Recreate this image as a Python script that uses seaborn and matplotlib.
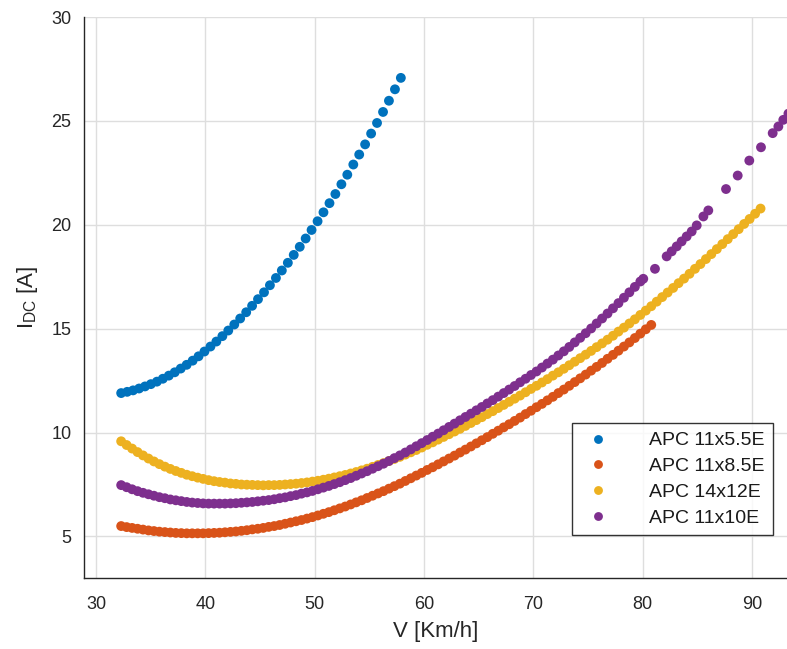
import numpy as np
import pandas as pd
import matplotlib
matplotlib.use('Agg')
import matplotlib.pyplot as plt
import seaborn as sns

sns.set_style('white')
plt.rcParams['font.family'] = ['Liberation Sans', 'DejaVu Sans']
plt.rcParams['mathtext.fontset'] = 'custom'
plt.rcParams['mathtext.rm'] = 'Liberation Sans'
plt.rcParams['mathtext.it'] = 'Liberation Sans:italic'

# propeller names and MATLAB default colours
props = ['APC 11x5.5E', 'APC 11x8.5E', 'APC 14x12E', 'APC 11x10E']
colors = ['#0072BD', '#D95319', '#EDB120', '#7E2F8E']

# APC 11x5.5E
v_55 = [32.30, 32.85, 33.39, 33.94, 34.48, 35.02, 35.57, 36.11, 36.66, 37.20,
        37.75, 38.29, 38.84, 39.38, 39.92, 40.47, 41.01, 41.56, 42.10, 42.65,
        43.19, 43.74, 44.28, 44.82, 45.37, 45.91, 46.46, 47.00, 47.55, 48.09,
        48.64, 49.18, 49.72, 50.27, 50.81, 51.36, 51.90, 52.45, 52.99, 53.54,
        54.08, 54.62, 55.17, 55.71, 56.26, 56.80, 57.35, 57.89]
i_55 = [11.90, 11.96, 12.03, 12.12, 12.22, 12.33, 12.45, 12.59, 12.74, 12.90,
        13.08, 13.26, 13.46, 13.67, 13.90, 14.14, 14.38, 14.64, 14.91, 15.20,
        15.49, 15.79, 16.10, 16.42, 16.75, 17.09, 17.44, 17.80, 18.17, 18.55,
        18.94, 19.34, 19.75, 20.17, 20.60, 21.04, 21.48, 21.95, 22.41, 22.90,
        23.38, 23.87, 24.39, 24.90, 25.43, 25.97, 26.52, 27.07]

# speed grid shared by the three other propellers
v_grid = [32.3, 32.8, 33.3, 33.8, 34.3, 34.8, 35.3, 35.8, 36.3, 36.8,
          37.3, 37.8, 38.3, 38.8, 39.3, 39.8, 40.3, 40.8, 41.3, 41.8,
          42.3, 42.8, 43.3, 43.8, 44.3, 44.8, 45.3, 45.8, 46.3, 46.8,
          47.3, 47.8, 48.3, 48.8, 49.3, 49.8, 50.3, 50.8, 51.3, 51.8,
          52.3, 52.8, 53.3, 53.8, 54.3, 54.8, 55.3, 55.8, 56.3, 56.8,
          57.3, 57.8, 58.3, 58.8, 59.3, 59.8, 60.3, 60.8, 61.3, 61.8,
          62.3, 62.8, 63.3, 63.8, 64.3, 64.8, 65.3, 65.8, 66.3, 66.8,
          67.3, 67.8, 68.3, 68.8, 69.3, 69.8, 70.3, 70.8, 71.3, 71.8,
          72.3, 72.8, 73.3, 73.8, 74.3, 74.8, 75.3, 75.8, 76.3, 76.8,
          77.3, 77.8, 78.3, 78.8, 79.3, 79.8, 80.3, 80.8, 81.3, 81.8,
          82.3, 82.8, 83.3, 83.8, 84.3, 84.8, 85.3, 85.8, 86.3, 86.8,
          87.3, 87.8, 88.3, 88.8, 89.3, 89.8, 90.3, 90.8]

# APC 11x8.5E (first 98 speeds)
i_85 = [5.50, 5.45, 5.41, 5.37, 5.33, 5.29, 5.26, 5.23, 5.21, 5.19,
        5.17, 5.16, 5.15, 5.15, 5.15, 5.15, 5.16, 5.17, 5.18, 5.20,
        5.22, 5.24, 5.27, 5.30, 5.34, 5.37, 5.41, 5.46, 5.50, 5.55,
        5.61, 5.67, 5.73, 5.79, 5.86, 5.93, 6.01, 6.09, 6.17, 6.26,
        6.35, 6.44, 6.54, 6.64, 6.74, 6.85, 6.96, 7.07, 7.18, 7.30,
        7.42, 7.54, 7.67, 7.80, 7.93, 8.06, 8.20, 8.33, 8.47, 8.61,
        8.75, 8.89, 9.04, 9.18, 9.33, 9.48, 9.63, 9.78, 9.94, 10.09,
        10.25, 10.40, 10.56, 10.72, 10.89, 11.05, 11.22, 11.38, 11.55, 11.72,
        11.90, 12.07, 12.25, 12.43, 12.61, 12.79, 12.98, 13.16, 13.35, 13.55,
        13.74, 13.94, 14.14, 14.34, 14.55, 14.76, 14.97, 15.18]

# APC 14x12E (all 118 speeds)
i_1412 = [9.58, 9.40, 9.23, 9.06, 8.90, 8.75, 8.61, 8.48, 8.36, 8.25,
          8.15, 8.06, 7.97, 7.90, 7.83, 7.77, 7.71, 7.66, 7.62, 7.59,
          7.55, 7.53, 7.50, 7.49, 7.48, 7.47, 7.46, 7.47, 7.47, 7.48,
          7.50, 7.52, 7.54, 7.57, 7.60, 7.64, 7.68, 7.73, 7.78, 7.84,
          7.90, 7.96, 8.03, 8.10, 8.18, 8.26, 8.35, 8.44, 8.53, 8.63,
          8.73, 8.83, 8.94, 9.05, 9.16, 9.28, 9.41, 9.53, 9.66, 9.79,
          9.92, 10.05, 10.18, 10.32, 10.46, 10.60, 10.74, 10.89, 11.03, 11.18,
          11.33, 11.48, 11.63, 11.78, 11.94, 12.10, 12.25, 12.41, 12.57, 12.74,
          12.90, 13.07, 13.24, 13.41, 13.58, 13.75, 13.93, 14.11, 14.29, 14.47,
          14.66, 14.86, 15.05, 15.25, 15.45, 15.66, 15.87, 16.08, 16.30, 16.52,
          16.74, 16.96, 17.19, 17.41, 17.64, 17.88, 18.11, 18.35, 18.59, 18.83,
          19.07, 19.31, 19.55, 19.79, 20.04, 20.28, 20.53, 20.78]

# APC 11x10E (first 96 speeds, then sparse points with gaps)
i_10 = [7.47, 7.37, 7.27, 7.18, 7.10, 7.03, 6.96, 6.89, 6.84, 6.78,
        6.74, 6.70, 6.66, 6.63, 6.61, 6.59, 6.58, 6.58, 6.58, 6.58,
        6.59, 6.60, 6.62, 6.64, 6.66, 6.69, 6.72, 6.75, 6.79, 6.84,
        6.88, 6.94, 6.99, 7.06, 7.12, 7.19, 7.27, 7.35, 7.43, 7.52,
        7.61, 7.71, 7.81, 7.92, 8.03, 8.14, 8.26, 8.38, 8.50, 8.63,
        8.77, 8.90, 9.04, 9.19, 9.34, 9.49, 9.64, 9.80, 9.95, 10.11,
        10.27, 10.43, 10.59, 10.75, 10.91, 11.07, 11.23, 11.40, 11.56, 11.73,
        11.90, 12.07, 12.24, 12.42, 12.59, 12.77, 12.94, 13.13, 13.32, 13.51,
        13.71, 13.91, 14.12, 14.34, 14.56, 14.78, 15.01, 15.25, 15.49, 15.73,
        15.98, 16.23, 16.49, 16.75, 17.01, 17.27]
v_10_tail = [80.07, 81.14, 82.21, 82.67, 83.13, 83.58, 84.04, 84.50, 84.96, 85.57,
             86.02, 87.64, 88.71, 89.77, 90.84, 91.91, 92.43, 92.88, 93.35]
i_10_tail = [17.40, 17.88, 18.48, 18.72, 18.96, 19.20, 19.44, 19.68, 19.97, 20.40,
             20.69, 21.72, 22.37, 23.09, 23.73, 24.41, 24.73, 25.05, 25.35]

xticks = [30, 40, 50, 60, 70, 80, 90]
yticks = [5, 10, 15, 20, 25, 30]

series = [
    (props[0], v_55, i_55),
    (props[1], v_grid[:len(i_85)], i_85),
    (props[2], v_grid[:len(i_1412)], i_1412),
    (props[3], v_grid[:len(i_10)] + v_10_tail, i_10 + i_10_tail),
]
df = pd.concat([pd.DataFrame({'V': v, 'I': i, 'prop': name}) for name, v, i in series],
               ignore_index=True)

W, H = 787, 649
fig = plt.figure(figsize=(W / 100, H / 100), dpi=100)
ax = fig.add_axes([84 / W, 1 - 578 / H, 1 - 84 / W, (578 - 17) / H])

ax.grid(True, color='#dedede', linewidth=1)
ax.set_axisbelow(True)

sns.scatterplot(data=df, x='V', y='I', hue='prop', hue_order=props, palette=colors,
                s=50, linewidth=0, edgecolor='none', ax=ax)

ax.set_xlim(28.9, 93.22)
ax.set_ylim(3.0, 30.0)
ax.set_xticks(xticks)
ax.set_yticks(yticks)

dark = '#262626'
for side in ['top', 'right']:
    ax.spines[side].set_visible(False)
for side in ['left', 'bottom']:
    ax.spines[side].set_color(dark)
    ax.spines[side].set_linewidth(1.0)
ax.tick_params(direction='in', length=4, width=1, color=dark, labelcolor=dark,
               labelsize=13, pad=9)
ax.tick_params(axis='x', pad=13)

ax.set_xlabel('V [Km/h]', fontsize=16, color=dark, labelpad=6)
ax.set_ylabel(r'I$_{\rm DC}$ [A]', fontsize=16, color=dark, labelpad=8)

handles, lbls = ax.get_legend_handles_labels()
leg = ax.legend(handles, lbls, loc='upper left',
                bbox_to_anchor=(572 / W, 1 - 423 / H), bbox_transform=fig.transFigure,
                frameon=True, fancybox=False, edgecolor='black', fontsize=14,
                borderaxespad=0, borderpad=0.45, labelspacing=0.42,
                handlelength=1.8, handletextpad=1.7, markerscale=0.9)
leg.get_frame().set_linewidth(1.0)
for t in leg.get_texts():
    t.set_color('#1a1a1a')

fig.savefig('out.png', dpi=100)
